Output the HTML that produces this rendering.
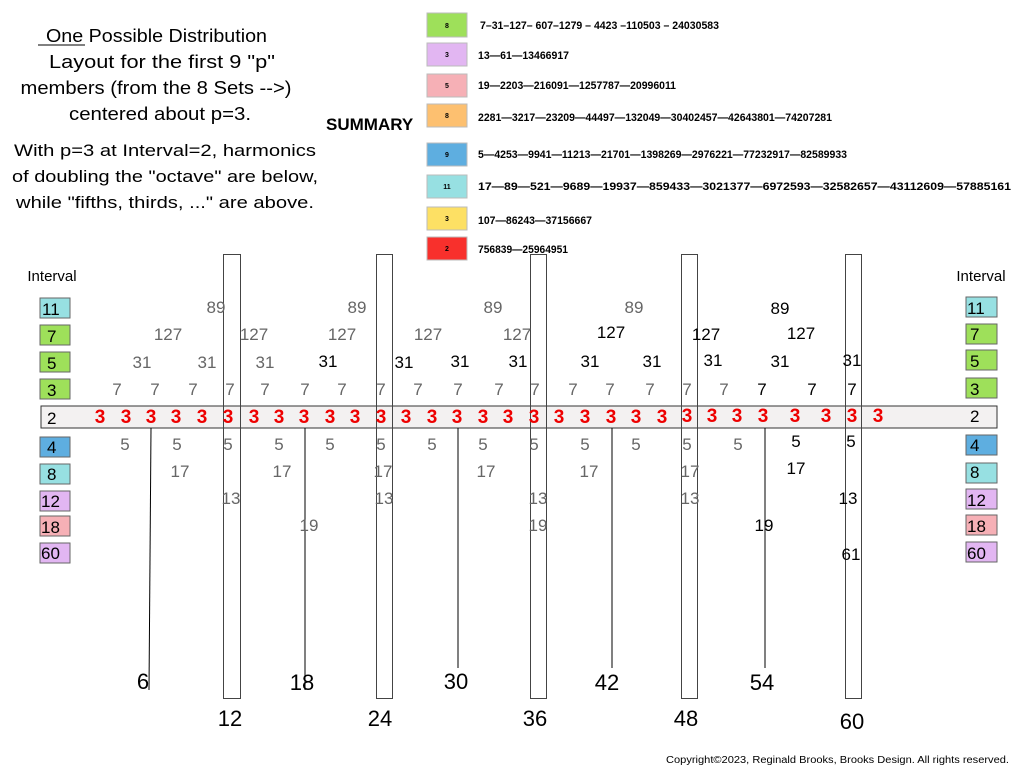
<!DOCTYPE html>
<html><head><meta charset="utf-8"><style>
html,body{margin:0;padding:0;background:#fff;width:1024px;height:768px;overflow:hidden}
svg{display:block;font-family:"Liberation Sans",sans-serif}
.g{fill:#666;font-size:17px;text-anchor:middle}
.b{fill:#000;font-size:17px;text-anchor:middle}
.r{fill:#e00;font-size:19px;font-weight:bold;text-anchor:middle}
.t{font-size:17px;text-anchor:middle;fill:#000}
.lg{font-size:11px;font-weight:bold;fill:#000}
.ln{font-size:7px;font-weight:bold;text-anchor:middle;fill:#000}
.bx{font-size:17px;fill:#000}
.ax{font-size:22px;text-anchor:middle;fill:#000}
</style></head><body>
<svg width="1024" height="768" viewBox="0 0 1024 768">
<!-- title text -->
<text x="46" y="42" style="font-size:18px" textLength="221" lengthAdjust="spacingAndGlyphs">One Possible Distribution</text>
<line x1="38" y1="45" x2="85" y2="45" stroke="#000" stroke-width="1"/>
<text class="t" x="162" y="68" style="font-size:18px" textLength="226" lengthAdjust="spacingAndGlyphs">Layout for the first 9 "p"</text>
<text class="t" x="156" y="94" style="font-size:18px" textLength="271" lengthAdjust="spacingAndGlyphs">members (from the 8 Sets --&gt;)</text>
<text class="t" x="160" y="120" style="font-size:18px" textLength="182" lengthAdjust="spacingAndGlyphs">centered about p=3.</text>
<text class="t" x="165" y="156" textLength="302" lengthAdjust="spacingAndGlyphs">With p=3 at Interval=2, harmonics</text>
<text class="t" x="165" y="182" textLength="306" lengthAdjust="spacingAndGlyphs">of doubling the "octave" are below,</text>
<text class="t" x="165" y="208" textLength="298" lengthAdjust="spacingAndGlyphs">while "fifths, thirds, ..." are above.</text>
<text x="326" y="130" style="font-size:17px;font-weight:bold">SUMMARY</text>
<!-- legend -->
<g stroke="#bbb" stroke-width="1">
<rect x="427" y="13" width="40" height="24" fill="#9ee05a"/>
<rect x="427" y="43" width="40" height="23" fill="#e2b6f2"/>
<rect x="427" y="74" width="40" height="23" fill="#f6b0b6"/>
<rect x="427" y="104" width="40" height="23" fill="#fdc070"/>
<rect x="427" y="143" width="40" height="23" fill="#5eaee0"/>
<rect x="427" y="175" width="40" height="23" fill="#97e0e2"/>
<rect x="427" y="207" width="40" height="23" fill="#fde064"/>
<rect x="427" y="237" width="40" height="23" fill="#f8302c"/>
</g>
<text class="ln" x="447" y="28">8</text>
<text class="ln" x="447" y="57">3</text>
<text class="ln" x="447" y="88">5</text>
<text class="ln" x="447" y="118">8</text>
<text class="ln" x="447" y="157">9</text>
<text class="ln" x="447" y="189">11</text>
<text class="ln" x="447" y="221">3</text>
<text class="ln" x="447" y="251">2</text>
<text class="lg" x="480" y="29" textLength="239" lengthAdjust="spacingAndGlyphs">7–31–127– 607–1279 – 4423 –110503 – 24030583</text>
<text class="lg" x="478" y="59" textLength="91" lengthAdjust="spacingAndGlyphs">13—61—13466917</text>
<text class="lg" x="478" y="89" textLength="198" lengthAdjust="spacingAndGlyphs">19—2203—216091—1257787—20996011</text>
<text class="lg" x="478" y="121" textLength="354" lengthAdjust="spacingAndGlyphs">2281—3217—23209—44497—132049—30402457—42643801—74207281</text>
<text class="lg" x="478" y="158" textLength="369" lengthAdjust="spacingAndGlyphs">5—4253—9941—11213—21701—1398269—2976221—77232917—82589933</text>
<text class="lg" x="478" y="190" textLength="533" lengthAdjust="spacingAndGlyphs">17—89—521—9689—19937—859433—3021377—6972593—32582657—43112609—57885161</text>
<text class="lg" x="478" y="224" textLength="114" lengthAdjust="spacingAndGlyphs">107—86243—37156667</text>
<text class="lg" x="478" y="253" textLength="90" lengthAdjust="spacingAndGlyphs">756839—25964951</text>

<!-- band -->
<rect x="41" y="406" width="956" height="22" fill="#f3f1f1" stroke="#333" stroke-width="1"/>
<!-- thin lines -->
<g stroke="#000" stroke-width="1">
<line x1="151" y1="428" x2="149" y2="690"/>
<line x1="305" y1="428" x2="305" y2="690"/>
<line x1="458" y1="428" x2="458" y2="668"/>
<line x1="612" y1="428" x2="612" y2="668"/>
<line x1="765" y1="428" x2="765" y2="668"/>
</g>
<!-- vertical rects -->
<g fill="none" stroke="#444" stroke-width="1">
<rect x="223.5" y="254.5" width="17" height="444"/>
<rect x="376.5" y="254.5" width="16" height="444"/>
<rect x="530.5" y="254.5" width="16" height="444"/>
<rect x="681.5" y="254.5" width="16" height="444"/>
<rect x="845.5" y="254.5" width="16" height="444"/>
</g>

<text x="52" y="281" style="font-size:15px;text-anchor:middle">Interval</text>
<text x="981" y="281" style="font-size:15px;text-anchor:middle">Interval</text>
<!-- side boxes -->
<g stroke="#666" stroke-width="1">
<rect x="40" y="298" width="30" height="20" fill="#97e0e2"/>
<rect x="40" y="325" width="30" height="20" fill="#9ee05a"/>
<rect x="40" y="352" width="30" height="20" fill="#9ee05a"/>
<rect x="40" y="379" width="30" height="20" fill="#9ee05a"/>
<rect x="40" y="437" width="30" height="20" fill="#5eaee0"/>
<rect x="40" y="464" width="30" height="20" fill="#97e0e2"/>
<rect x="40" y="491" width="30" height="20" fill="#e2b6f2"/>
<rect x="40" y="516" width="30" height="20" fill="#f6b0b6"/>
<rect x="40" y="543" width="30" height="20" fill="#e2b6f2"/>
<rect x="966" y="297" width="31" height="20" fill="#97e0e2"/>
<rect x="966" y="324" width="31" height="20" fill="#9ee05a"/>
<rect x="966" y="350" width="31" height="20" fill="#9ee05a"/>
<rect x="966" y="378" width="31" height="20" fill="#9ee05a"/>
<rect x="966" y="435" width="31" height="20" fill="#5eaee0"/>
<rect x="966" y="463" width="31" height="20" fill="#97e0e2"/>
<rect x="966" y="489" width="31" height="20" fill="#e2b6f2"/>
<rect x="966" y="515" width="31" height="20" fill="#f6b0b6"/>
<rect x="966" y="542" width="31" height="20" fill="#e2b6f2"/>
</g>
<g class="bx">
<text x="42" y="315">11</text><text x="47" y="342">7</text><text x="47" y="369">5</text><text x="47" y="396">3</text>
<text x="47" y="424">2</text>
<text x="47" y="453">4</text><text x="47" y="480">8</text><text x="41" y="507">12</text><text x="41" y="533">18</text><text x="41" y="559">60</text>
<text x="967" y="314">11</text><text x="970" y="340">7</text><text x="970" y="367">5</text><text x="970" y="395">3</text>
<text x="970" y="422">2</text>
<text x="970" y="451">4</text><text x="970" y="478">8</text><text x="967" y="506">12</text><text x="967" y="532">18</text><text x="967" y="559">60</text>
</g>

<!-- 89 row -->
<g class="g"><text x="216" y="313">89</text><text x="357" y="313">89</text><text x="493" y="313">89</text><text x="634" y="313">89</text></g>
<text class="b" x="780" y="314">89</text>
<!-- 127 -->
<g class="g"><text x="168" y="340">127</text><text x="254" y="340">127</text><text x="342" y="340">127</text><text x="428" y="340">127</text><text x="517" y="340">127</text></g>
<g class="b"><text x="611" y="338">127</text><text x="706" y="340">127</text><text x="801" y="339">127</text></g>
<!-- 31 -->
<g class="g"><text x="142" y="368">31</text><text x="207" y="368">31</text><text x="265" y="368">31</text></g>
<g class="b"><text x="328" y="367">31</text><text x="404" y="368">31</text><text x="460" y="367">31</text><text x="518" y="367">31</text><text x="590" y="367">31</text><text x="652" y="367">31</text><text x="713" y="366">31</text><text x="780" y="367">31</text><text x="852" y="366">31</text></g>
<!-- 7 -->
<g class="g"><text x="117" y="395">7</text><text x="155" y="395">7</text><text x="193" y="395">7</text><text x="230" y="395">7</text><text x="265" y="395">7</text><text x="305" y="395">7</text><text x="342" y="395">7</text><text x="381" y="395">7</text><text x="418" y="395">7</text><text x="458" y="395">7</text><text x="499" y="395">7</text><text x="535" y="395">7</text><text x="573" y="395">7</text><text x="610" y="395">7</text><text x="650" y="395">7</text><text x="687" y="395">7</text><text x="724" y="395">7</text></g>
<g class="b"><text x="762" y="395">7</text><text x="812" y="395">7</text><text x="852" y="395">7</text></g>
<!-- 3 red -->
<g class="r">
<text x="100" y="423">3</text><text x="126" y="423">3</text><text x="151" y="423">3</text><text x="176" y="423">3</text><text x="202" y="423">3</text><text x="228" y="423">3</text><text x="254" y="423">3</text><text x="279" y="423">3</text><text x="304" y="423">3</text><text x="330" y="423">3</text><text x="355" y="423">3</text><text x="381" y="423">3</text><text x="406" y="423">3</text><text x="432" y="423">3</text><text x="457" y="423">3</text><text x="483" y="423">3</text><text x="508" y="423">3</text><text x="534" y="423">3</text><text x="559" y="423">3</text><text x="585" y="423">3</text><text x="611" y="423">3</text><text x="636" y="423">3</text><text x="662" y="423">3</text><text x="687" y="422">3</text><text x="712" y="422">3</text><text x="737" y="422">3</text><text x="763" y="422">3</text><text x="795" y="422">3</text><text x="826" y="422">3</text><text x="852" y="422">3</text><text x="878" y="422">3</text>
</g>
<!-- 5 -->
<g class="g"><text x="125" y="450">5</text><text x="177" y="450">5</text><text x="228" y="450">5</text><text x="279" y="450">5</text><text x="330" y="450">5</text><text x="381" y="450">5</text><text x="432" y="450">5</text><text x="483" y="450">5</text><text x="534" y="450">5</text><text x="585" y="450">5</text><text x="636" y="450">5</text><text x="687" y="450">5</text><text x="738" y="450">5</text></g>
<g class="b"><text x="796" y="447">5</text><text x="851" y="447">5</text></g>
<!-- 17 -->
<g class="g"><text x="180" y="477">17</text><text x="282" y="477">17</text><text x="383" y="477">17</text><text x="486" y="477">17</text><text x="589" y="477">17</text><text x="690" y="477">17</text></g>
<text class="b" x="796" y="474">17</text>
<!-- 13 -->
<g class="g"><text x="231" y="504">13</text><text x="384" y="504">13</text><text x="538" y="504">13</text><text x="690" y="504">13</text></g>
<text class="b" x="848" y="504">13</text>
<!-- 19 -->
<g class="g"><text x="309" y="531">19</text><text x="538" y="531">19</text></g>
<text class="b" x="764" y="531">19</text>
<text class="b" x="851" y="560">61</text>

<!-- axis labels -->
<g class="ax">
<text x="143" y="689">6</text><text x="302" y="690">18</text><text x="456" y="689">30</text><text x="607" y="690">42</text><text x="762" y="690">54</text>
<text x="230" y="726">12</text><text x="380" y="726">24</text><text x="535" y="726">36</text><text x="686" y="726">48</text><text x="852" y="729">60</text>
</g>
<text x="1009" y="763" style="font-size:10px;text-anchor:end" textLength="343" lengthAdjust="spacingAndGlyphs">Copyright©2023, Reginald Brooks, Brooks Design. All rights reserved.</text>
</svg>
</body></html>
